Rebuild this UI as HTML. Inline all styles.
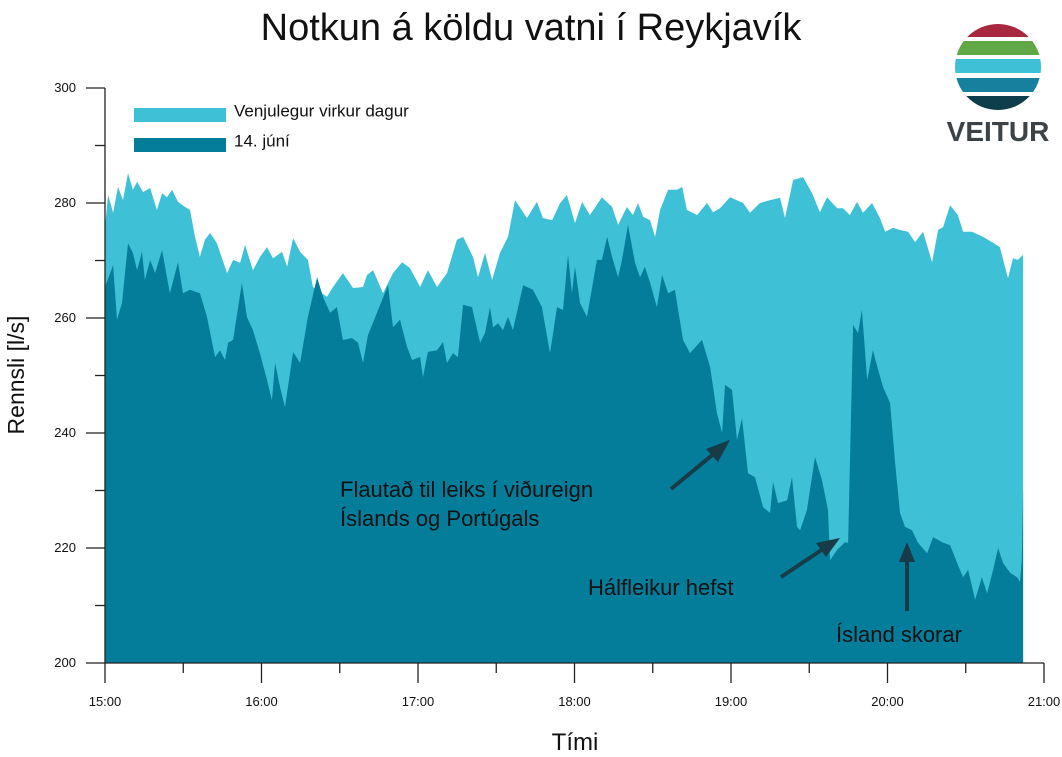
<!DOCTYPE html>
<html><head><meta charset="utf-8"><style>
html,body{margin:0;padding:0;background:#fff;}
svg{display:block;font-family:"Liberation Sans",Arial,sans-serif;}
</style></head><body>
<svg id="chart" width="1062" height="757" viewBox="0 0 1062 757" xmlns="http://www.w3.org/2000/svg">
<text x="531" y="40" text-anchor="middle" font-size="38" fill="#111">Notkun á köldu vatni í Reykjavík</text>
<g id="plot"></g>
<g id="axes"></g>
<g>
  <rect x="134" y="108" width="92" height="14" fill="#3ec0d6"/>
  <text x="234" y="112" font-size="17" fill="#111" dominant-baseline="middle">Venjulegur virkur dagur</text>
  <rect x="134" y="138" width="92" height="14" fill="#047d9b"/>
  <text x="234" y="142" font-size="17" fill="#111" dominant-baseline="middle">14. júní</text>
</g>
<g fill="#111" font-size="22">
  <text x="340" y="497">Flautað til leiks í viðureign</text>
  <text x="340" y="526">Íslands og Portúgals</text>
  <text x="588" y="595">Hálfleikur hefst</text>
  <text x="836" y="642">Ísland skorar</text>
  <g stroke="#173c47" stroke-width="4" fill="#173c47">
    <line x1="671" y1="489" x2="716" y2="452"/>
    <polygon points="730,440 706,449 718,462" stroke="none"/>
    <line x1="781" y1="577" x2="826" y2="547"/>
    <polygon points="840,538 816,543 826,557" stroke="none"/>
    <line x1="907" y1="611" x2="907" y2="560"/>
    <polygon points="907,542 899,562 915,562" stroke="none"/>
  </g>
</g>
<g>
  <defs><clipPath id="lc"><circle cx="998" cy="67" r="43"/></clipPath></defs>
  <g clip-path="url(#lc)">
    <rect x="950" y="22" width="100" height="15" fill="#a8283f"/>
    <rect x="950" y="41" width="100" height="14" fill="#5fa845"/>
    <rect x="950" y="59" width="100" height="14" fill="#3ec0d6"/>
    <rect x="950" y="78" width="100" height="14" fill="#16809e"/>
    <rect x="950" y="96" width="100" height="16" fill="#0e3d4b"/>
  </g>
  <text x="998" y="141" text-anchor="middle" font-size="28" font-weight="bold" fill="#3c4347">VEITUR</text>
</g>
<text x="575" y="750" text-anchor="middle" font-size="24" fill="#111">Tími</text>
<text transform="translate(24,375) rotate(-90)" text-anchor="middle" font-size="23" fill="#111">Rennsli [l/s]</text>
</svg>
<script>
const typicalTime=[0,1.2,3.1,5.0,6.9,8.8,10.7,12.3,14.6,17.3,19.9,21.9,23.8,25.7,28.0,30.7,32.6,34.5,36.4,38.3,40.3,42.9,46.8,49.1,51.8,53.7,56.7,59.4,62.1,64.4,67.9,69.8,72.1,74.8,77.8,79.7,85.1,87.4,91.2,95.1,98.9,100.5,102.8,106.6,110.4,113.9,116.9,120.8,123.8,127.3,131.1,134.9,137.3,141.1,143.0,145.7,148.4,151.4,154.5,157.2,161.8,165.6,167.9,171.4,174.5,177.1,180.2,182.9,185.9,190.5,194.4,196.7,200.1,202.4,204.4,206.3,209.0,210.9,212.8,215.9,219.3,221.3,223.1,227.0,230.8,233.1,235.8,239.6,244.6,247.3,251.1,255.0,258.8,260.7,263.8,267.6,271.1,274.1,276.8,280.7,282.9,285.6,288.3,290.6,294.1,297.1,299.1,302.1,304.8,307.9,310.6,313.6,317.1,319.4,321.3,324.0,327.0,329.0,332.4,336.6,340.5,343.1,346.2,348.1,350.0,352.0];
const typicalFlow=[275.8,281.4,278.3,282.8,280.5,285.2,282.3,283.7,281.9,282.6,278.8,281.7,281.0,282.3,280.2,279.3,278.8,274.1,270.6,273.6,274.8,273.0,267.8,270.1,269.6,272.7,268.3,270.6,272.3,270.4,271.5,268.9,273.9,271.5,270.1,265.4,263.7,265.4,267.8,265.2,265.4,267.5,268.3,264.3,267.8,269.7,268.7,265.4,268.3,265.4,267.8,273.6,274.1,270.6,267.1,271.3,266.6,271.3,274.1,280.5,277.4,280.2,277.4,277.0,280.0,281.4,276.5,280.2,277.9,281.0,279.3,276.2,279.3,277.9,280.0,277.6,277.0,274.1,278.8,282.3,282.3,282.8,278.8,277.9,280.0,278.4,279.1,281.0,280.0,278.3,280.0,280.5,280.9,277.4,284.0,284.5,281.7,278.4,281.0,279.1,279.1,277.9,280.2,278.3,280.0,277.4,275.0,275.7,275.3,275.0,273.2,275.0,269.7,275.3,275.8,279.6,277.9,275.0,275.0,274.1,273.1,272.3,266.9,270.4,270.1,271.0];
const juneTime=[0,3.1,4.6,6.5,8.8,10.7,12.3,14.2,15.3,17.3,19.2,21.9,24.9,28.0,29.9,32.6,36.4,39.1,42.2,44.1,46.0,47.2,49.1,52.5,54.4,56.7,59.4,62.1,64.0,65.2,67.1,69.0,72.1,74.8,77.8,81.3,83.6,86.3,88.9,91.2,94.7,97.0,98.9,100.8,104.3,108.5,110.4,113.1,115.8,117.7,120.8,121.9,123.8,127.3,129.6,131.1,133.4,135.3,137.3,140.7,143.8,145.7,147.6,148.8,150.7,152.6,154.5,156.4,160.3,164.1,167.5,170.6,173.3,175.6,177.5,179.0,180.2,182.1,184.8,185.9,188.6,190.5,192.5,194.4,196.7,198.2,200.5,203.2,205.1,207.0,209.0,211.6,213.6,215.9,218.5,221.6,224.3,228.9,232.0,234.6,236.6,237.7,240.4,242.3,244.2,246.5,249.2,252.3,255.0,256.1,258.0,261.5,263.4,265.3,266.5,269.1,272.2,274.9,277.2,278.0,280.7,283.7,284.9,286.8,288.7,290.2,292.2,294.4,296.4,298.3,301.0,302.9,304.8,306.7,309.4,311.7,315.2,317.5,321.3,324.0,326.7,329.0,330.9,333.6,336.2,338.2,340.5,342.4,344.3,347.0,349.7,350.8,351.5,352.0];
const juneFlow=[265.4,269.2,259.7,262.6,273.0,271.3,268.3,271.5,266.6,270.1,267.8,271.8,264.3,269.7,264.3,264.9,264.3,260.2,253.2,254.4,252.7,255.7,256.2,266.1,260.2,257.9,253.9,249.2,245.7,252.2,248.0,244.5,254.1,252.2,260.2,267.1,263.6,260.9,261.9,256.2,256.5,255.7,252.2,257.0,260.9,265.7,258.4,259.7,255.0,252.7,253.2,249.7,254.1,254.4,255.8,252.2,253.9,253.2,262.3,261.9,255.7,257.4,261.9,258.4,259.1,257.9,260.2,257.9,265.7,264.9,261.9,253.9,261.9,261.4,271.0,264.3,268.9,262.6,260.2,263.1,270.1,270.1,274.1,270.6,267.1,270.1,276.2,269.6,267.1,268.9,266.1,261.9,267.5,264.3,264.9,256.2,253.9,256.2,251.5,243.5,240.0,248.4,247.5,238.8,242.6,233.0,232.3,227.1,226.1,231.5,227.8,228.3,232.3,223.7,223.1,226.6,235.8,231.8,226.6,217.9,219.7,221.0,220.9,258.8,257.4,261.4,249.2,254.4,251.0,248.0,245.2,234.8,226.1,223.7,223.1,220.9,219.1,221.9,220.9,220.5,217.4,214.9,216.2,211.0,214.9,212.1,216.2,220.0,217.4,215.7,214.9,214.1,217.9,230.6];
const yTicks=[200,220,240,260,280,300];
const yMinor=[210,230,250,270,290];
const xTickLabels=["15:00","16:00","17:00","18:00","19:00","20:00","21:00"];

const NS="http://www.w3.org/2000/svg";
const X0=105,X1=1044,Y0=663,Y1=88,TMAX=360,VMIN=200,VMAX=300;
function xs(t){return X0+(X1-X0)*t/TMAX;}
function ys(v){return Y0-(Y0-Y1)*(v-VMIN)/(VMAX-VMIN);}
function mk(tag,attrs,parent){const e=document.createElementNS(NS,tag);for(const k in attrs)e.setAttribute(k,attrs[k]);parent.appendChild(e);return e;}
function areaPath(ts,vs){let d="M"+xs(ts[0]).toFixed(1)+","+ys(VMIN).toFixed(1);for(let i=0;i<ts.length;i++)d+=" L"+xs(ts[i]).toFixed(1)+","+ys(vs[i]).toFixed(1);d+=" L"+xs(ts[ts.length-1]).toFixed(1)+","+ys(VMIN).toFixed(1)+" Z";return d;}
const plot=document.getElementById('plot');
const a1=mk('path',{d:areaPath(typicalTime,typicalFlow),fill:'#3ec0d6'},plot);


const a2=mk('path',{d:areaPath(juneTime,juneFlow),fill:'#047d9b'},plot);



const ax=document.getElementById('axes');
const yl=mk('line',{x1:X0,y1:Y1,x2:X0,y2:Y0,stroke:'#222','stroke-width':1.3},ax);


const xl=mk('line',{x1:X0,y1:Y0,x2:X1,y2:Y0,stroke:'#222','stroke-width':1.3},ax);


yTicks.forEach(v=>{
  const t=mk('line',{x1:X0-19,y1:ys(v),x2:X0,y2:ys(v),stroke:'#222','stroke-width':1.3},ax);
  
  
  const l=mk('text',{x:X0-29,y:ys(v)+4,'text-anchor':'end','font-size':13,fill:'#111'},ax);
  l.textContent=v;
  
  
});
yMinor.forEach(v=>{
  const t=mk('line',{x1:X0-10,y1:ys(v),x2:X0,y2:ys(v),stroke:'#222','stroke-width':1.3},ax);
  
  
});
xTickLabels.forEach((lab,i)=>{
  const x=xs(i*60);
  const t=mk('line',{x1:x,y1:Y0,x2:x,y2:Y0+20,stroke:'#222','stroke-width':1.3},ax);
  
  
  const l=mk('text',{x:x,y:Y0+43,'text-anchor':'middle','font-size':13,fill:'#111'},ax);
  l.textContent=lab;
  
  
  if(i<xTickLabels.length-1){
    const m=mk('line',{x1:xs(i*60+30),y1:Y0,x2:xs(i*60+30),y2:Y0+10,stroke:'#222','stroke-width':1.3},ax);
    
    
  }
});
</script>
</body></html>
